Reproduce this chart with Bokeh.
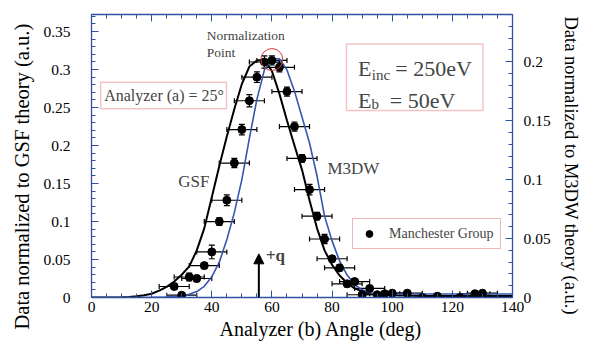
from bokeh.plotting import figure
from bokeh.models import (Range1d, LinearAxis, FixedTicker, Whisker, TeeHead, Title,
                          ColumnDataSource, Label, BoxAnnotation, Arrow, NormalHead, Legend, LegendItem,
                          CustomLabelingPolicy)
from bokeh.embed import file_html
from bokeh.resources import INLINE
import numpy as np

# ---------------- data ----------------
angle_deg = [27.5, 30, 32.5, 35, 37.5, 40, 42.5, 45, 47.5, 50, 52.5, 55, 57.5, 60, 62.5, 65,
             67.5, 70, 72.5, 75, 77.5, 80, 82.5, 85, 87.5, 90, 92.5, 95, 97.5, 100, 105, 110,
             115, 122.5, 127.5, 130]
data_gsf = [0.0145, 0.003, 0.027, 0.025, 0.042, 0.060, 0.100, 0.128, 0.177, 0.221, 0.259, 0.290,
            0.310, 0.312, 0.303, 0.271, 0.225, 0.183, 0.142, 0.107, 0.077, 0.051, 0.039, 0.018,
            0.021, 0.0036, 0.012, 0.0036, 0.005, 0.0057, 0.0057, 0.0, 0.0017, 0.0, 0.005, 0.0057]
yerr = [0.004, 0.003, 0.005, 0.004, 0.004, 0.009, 0.005, 0.007, 0.006, 0.007, 0.008, 0.007,
        0.008, 0.006, 0.006, 0.006, 0.006, 0.005, 0.007, 0.005, 0.006, 0.004, 0.004, 0.004,
        0.004, 0.003, 0.003, 0.003, 0.003, 0.003, 0.003, 0.003, 0.003, 0.003, 0.003, 0.003]
xerr = [5.0] * len(angle_deg)

gsf_angle = [0, 5, 10, 12.5, 15, 17.5, 20, 22.5, 25, 27.5, 30, 32.5, 35, 37.5, 40, 42.5, 45, 47.5,
             50, 52.5, 55, 57.5, 60, 62.5, 65, 67.5, 70, 72.5, 75, 77.5, 80, 82.5, 85, 87.5, 90,
             92.5, 95, 100, 110, 120, 130, 140]
gsf_value = [0, 0, 0.0003, 0.0007, 0.0015, 0.003, 0.005, 0.009, 0.014, 0.021, 0.030, 0.041, 0.062,
             0.091, 0.132, 0.173, 0.212, 0.248, 0.281, 0.304, 0.312, 0.313, 0.298, 0.268, 0.233,
             0.200, 0.168, 0.128, 0.091, 0.062, 0.043, 0.029, 0.019, 0.012, 0.008, 0.005, 0.004,
             0.003, 0.002, 0.002, 0.002, 0.002]

m3dw_angle = [0, 10, 20, 25, 27.5, 30, 32.5, 35, 37.5, 40, 42.5, 45, 47.5, 50, 52.5, 55, 57.5, 60,
              62.5, 65, 67.5, 70, 72.5, 75, 77.5, 80, 82.5, 85, 87.5, 90, 92.5, 95, 100, 110, 120,
              130, 140]
m3dw_value = [0, 0, 0.0001, 0.0004, 0.0008, 0.0013, 0.0028, 0.005, 0.0095, 0.0175, 0.030, 0.049,
              0.072, 0.100, 0.135, 0.168, 0.193, 0.2025, 0.2025, 0.193, 0.175, 0.153, 0.131, 0.103,
              0.069, 0.048, 0.031, 0.019, 0.011, 0.0065, 0.004, 0.003, 0.003, 0.003, 0.003, 0.003,
              0.003]

x_ticks = [0, 20, 40, 60, 80, 100, 120, 140]
left_ticks = [0, 0.05, 0.1, 0.15, 0.2, 0.25, 0.3, 0.35]
left_tick_labels = ["0", "0.05", "0.1", "0.15", "0.2", "0.25", "0.3", "0.35"]
right_ticks = [0, 0.05, 0.1, 0.15, 0.2]
right_tick_labels = ["0", "0.05", "0.1", "0.15", "0.2"]

x_title = "Analyzer (b) Angle (deg)"
left_title = "Data normalized  to GSF theory (a.u.)"
right_title = "Data normalized  to M3DW theory (a.u.)"

# ---------------- styles ----------------
FONT = "Liberation Serif"
AXIS_BLUE = "#3050a0"
CURVE_BLUE = "#3556b0"
RED = "#d93c3c"

p = figure(width=589, height=347, x_range=Range1d(0, 140), y_range=Range1d(0, 0.3725),
           output_backend="svg", toolbar_location=None,
           min_border_left=91, min_border_right=76, min_border_top=14, min_border_bottom=50)
p.extra_y_ranges = {"right": Range1d(0, 0.24)}
p.grid.visible = False
p.outline_line_color = None
p.background_fill_color = "white"


def style_axis(ax):
    ax.axis_line_color = AXIS_BLUE
    ax.axis_line_width = 1.3
    ax.major_tick_line_color = AXIS_BLUE
    ax.minor_tick_line_color = AXIS_BLUE
    ax.major_tick_in = 7
    ax.major_tick_out = 0
    ax.minor_tick_in = 4
    ax.minor_tick_out = 0
    ax.major_label_text_font = FONT
    ax.major_label_text_font_size = "15.5px"
    ax.major_label_text_color = "black"


# bottom axis
xa = p.xaxis[0]
xa.ticker = FixedTicker(ticks=x_ticks, minor_ticks=list(range(0, 141, 5)))
style_axis(xa)
xa.major_label_standoff = 4

# left axis
ya = p.yaxis[0]
ya.ticker = FixedTicker(ticks=left_ticks, minor_ticks=list(np.round(np.arange(0, 0.371, 0.01), 3)))
ya.major_label_overrides = dict(zip(left_ticks, left_tick_labels))
style_axis(ya)
ya.major_label_standoff = 21

# top axis (ticks only, no labels)
ta = LinearAxis(ticker=FixedTicker(ticks=x_ticks, minor_ticks=list(range(0, 141, 5))))
style_axis(ta)
ta.major_label_standoff = 0
ta.major_label_policy = CustomLabelingPolicy(
    code="const all = Array.from(indices); for (const i of all) indices.unset(i); return indices")
p.add_layout(ta, "above")

# right axis
ra = LinearAxis(y_range_name="right",
                ticker=FixedTicker(ticks=right_ticks,
                                   minor_ticks=list(np.round(np.arange(0, 0.241, 0.01), 3))))
ra.major_label_overrides = dict(zip(right_ticks, right_tick_labels))
style_axis(ra)
ra.major_label_standoff = 11
p.add_layout(ra, "right")

# axis titles (as side titles so they can sit off-centre like the reference)
p.add_layout(Title(text=x_title, align="left", offset=128, standoff=2, text_font=FONT,
                   text_font_size="20px", text_font_style="normal", text_color="black"), "below")
p.add_layout(Title(text=left_title, align="left", offset=-32, standoff=15, text_font=FONT,
                   text_font_size="20.5px", text_font_style="normal", text_color="black"), "left")
p.add_layout(Title(text=right_title, align="left", offset=2, standoff=14, text_font=FONT,
                   text_font_size="18.5px", text_font_style="normal", text_color="black"), "right")

# ---------------- curves ----------------
p.line(gsf_angle, gsf_value, line_color="black", line_width=2)
p.line(m3dw_angle, m3dw_value, line_color=CURVE_BLUE, line_width=1.6, y_range_name="right")

# ---------------- data with error bars ----------------
src = ColumnDataSource(dict(
    x=angle_deg, y=data_gsf,
    xl=[a - e for a, e in zip(angle_deg, xerr)], xu=[a + e for a, e in zip(angle_deg, xerr)],
    yl=[v - e for v, e in zip(data_gsf, yerr)], yu=[v + e for v, e in zip(data_gsf, yerr)],
))
p.add_layout(Whisker(source=src, base="y", lower="xl", upper="xu", dimension="width",
                     line_color="black", line_width=1.2,
                     lower_head=TeeHead(size=5, line_color="black", line_width=1.2),
                     upper_head=TeeHead(size=5, line_color="black", line_width=1.2)))
p.add_layout(Whisker(source=src, base="x", lower="yl", upper="yu", dimension="height",
                     line_color="black", line_width=1.2,
                     lower_head=TeeHead(size=6, line_color="black", line_width=1.2),
                     upper_head=TeeHead(size=6, line_color="black", line_width=1.2)))
pts = p.scatter("x", "y", source=src, size=8, fill_color="black", line_color="black")

legend = Legend(items=[LegendItem(label="Manchester Group", renderers=[pts])],
                location=(261, 48), border_line_color="#e37070", border_line_width=1.5,
                background_fill_color="white", padding=6, margin=0, spacing=0,
                label_standoff=10, glyph_width=20, glyph_height=17, label_height=17,
                label_text_font=FONT, label_text_font_size="14px")
p.add_layout(legend)

# ---------------- annotations ----------------
p.scatter([59.97], [0.3132], size=22, fill_color=None, line_color=RED, line_width=1)

p.add_layout(Label(x=38.3, y=0.3447, text="Normalization", text_font=FONT, text_font_size="13.5px",
                   text_baseline="middle", text_align="left"))
p.add_layout(Label(x=38.3, y=0.3224, text="Point", text_font=FONT, text_font_size="13.5px",
                   text_baseline="middle", text_align="left"))

p.add_layout(BoxAnnotation(left=3.06, right=44.9, bottom=0.2483, top=0.2833,
                           fill_alpha=0, line_color=RED, line_width=1.5))
p.add_layout(Label(x=4.2, y=0.2658, text="Analyzer (a) = 25°", text_font=FONT,
                   text_font_size="16px", text_baseline="middle", text_align="left"))

p.add_layout(BoxAnnotation(left=84.8, right=130.2, bottom=0.246, top=0.3338,
                           fill_alpha=0, line_color=RED, line_width=1.5))
p.add_layout(Label(x=88.64, y=0.3017, text="E", text_font=FONT, text_font_size="22px",
                   text_baseline="alphabetic", text_align="left"))
p.add_layout(Label(x=93.2, y=0.2925, text="inc", text_font=FONT, text_font_size="15px",
                   text_baseline="alphabetic", text_align="left"))
p.add_layout(Label(x=101.0, y=0.3017, text="= 250eV", text_font=FONT, text_font_size="22px",
                   text_baseline="alphabetic", text_align="left"))
p.add_layout(Label(x=88.64, y=0.2592, text="E", text_font=FONT, text_font_size="22px",
                   text_baseline="alphabetic", text_align="left"))
p.add_layout(Label(x=93.1, y=0.2546, text="b", text_font=FONT, text_font_size="15px",
                   text_baseline="alphabetic", text_align="left"))
p.add_layout(Label(x=99.2, y=0.2592, text="= 50eV", text_font=FONT, text_font_size="22px",
                   text_baseline="alphabetic", text_align="left"))

p.add_layout(Label(x=34.0, y=0.153, text="GSF", text_font=FONT, text_font_size="17px",
                   text_baseline="middle", text_align="center"))
p.add_layout(Label(x=87.1, y=0.1693, text="M3DW", text_font=FONT, text_font_size="17px",
                   text_baseline="middle", text_align="center"))

p.add_layout(Arrow(end=NormalHead(size=10, fill_color="black", line_color="black"),
                   x_start=55.65, y_start=0.0, x_end=55.65, y_end=0.0575,
                   line_width=2, line_color="black"))
p.add_layout(Label(x=58.0, y=0.0556, text="+q", text_font=FONT, text_font_size="17px",
                   text_font_style="bold", text_baseline="middle", text_align="left"))

open("out.html", "w").write(file_html(p, INLINE))
